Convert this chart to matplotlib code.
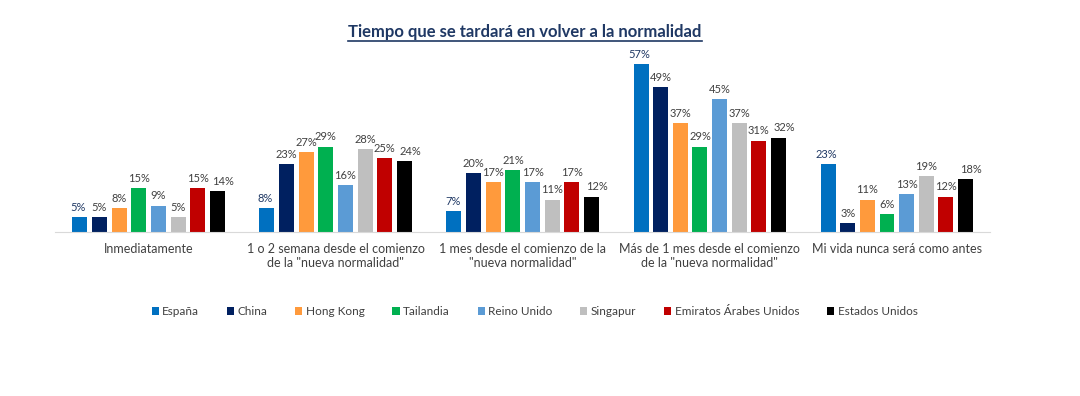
import matplotlib
matplotlib.use("Agg")
import matplotlib.pyplot as plt
import numpy as np
from matplotlib.lines import Line2D

plt.rcParams['font.family'] = ['Lato', 'DejaVu Sans']

categories = ["Inmediatamente",
              "1 o 2 semana desde el comienzo\nde la \"nueva normalidad\"",
              "1 mes desde el comienzo de la\n\"nueva normalidad\"",
              "Más de 1 mes desde el comienzo\nde la \"nueva normalidad\"",
              "Mi vida nunca será como antes"]
countries = ["España", "China", "Hong Kong", "Tailandia", "Reino Unido",
             "Singapur", "Emiratos Árabes Unidos", "Estados Unidos"]
espana = [5, 8, 7, 57, 23]
china = [5, 23, 20, 49, 3]
hong_kong = [8, 27, 17, 37, 11]
tailandia = [15, 29, 21, 29, 6]
reino_unido = [9, 16, 17, 45, 13]
singapur = [5, 28, 11, 37, 19]
emiratos = [15, 25, 17, 31, 12]
eeuu = [14, 24, 12, 32, 18]
series = [espana, china, hong_kong, tailandia, reino_unido, singapur, emiratos, eeuu]

colors = ["#0070C0", "#002060", "#FF9A3C", "#00B050", "#5B9BD5",
          "#BFBFBF", "#C00000", "#000000"]

fig = plt.figure(figsize=(10.8, 3.96), dpi=100)
ax = fig.add_axes([0.051, 0.414, 0.866, 0.447])

x = np.arange(len(categories))
slot = 0.105
width = 0.08
# small sideways nudges so neighbouring labels do not collide (like Excel does)
nudge = [-1, 0, 0, 0, 0, 0, 0, 4]
for i, (name, vals) in enumerate(zip(countries, series)):
    pos = x + (i - 3.5) * slot
    bars = ax.bar(pos, vals, width, color=colors[i], label=name)
    lab_color = "#1F3864" if i == 0 else "#404040"
    for b, v in zip(bars, vals):
        ax.annotate("%d%%" % v, (b.get_x() + b.get_width() / 2, v),
                    xytext=(nudge[i], 3), textcoords="offset points",
                    ha="center", va="bottom", fontsize=8, color=lab_color)

ax.set_xlim(-0.5, 4.5)
ax.set_ylim(0, 60)
ax.set_xticks(x)
ax.set_xticklabels(categories, fontsize=9, color="#404040")
ax.tick_params(axis="x", length=0, pad=8)
ax.set_yticks([])
for s in ["top", "right", "left"]:
    ax.spines[s].set_visible(False)
ax.spines["bottom"].set_color("#D9D9D9")

leg = fig.legend(loc="center", bbox_to_anchor=(0.495, 0.213), ncol=8,
                 frameon=False, fontsize=8.5, handlelength=0.6,
                 handleheight=0.6, handletextpad=0.3, columnspacing=2.35)
for t in leg.get_texts():
    t.set_color("#404040")

title = fig.text(0.486, 0.92, "Tiempo que se tardará en volver a la normalidad",
                 ha="center", va="center", fontsize=12, fontweight="bold",
                 color="#1F3864")

# underline for the title
fig.canvas.draw()
bb = title.get_window_extent(fig.canvas.get_renderer()).transformed(fig.transFigure.inverted())
fig.add_artist(Line2D([bb.x0, bb.x1], [bb.y0 - 0.004, bb.y0 - 0.004],
                      transform=fig.transFigure, color="#1F3864", linewidth=1.2))

fig.savefig("out.png", dpi=100, facecolor="white")
